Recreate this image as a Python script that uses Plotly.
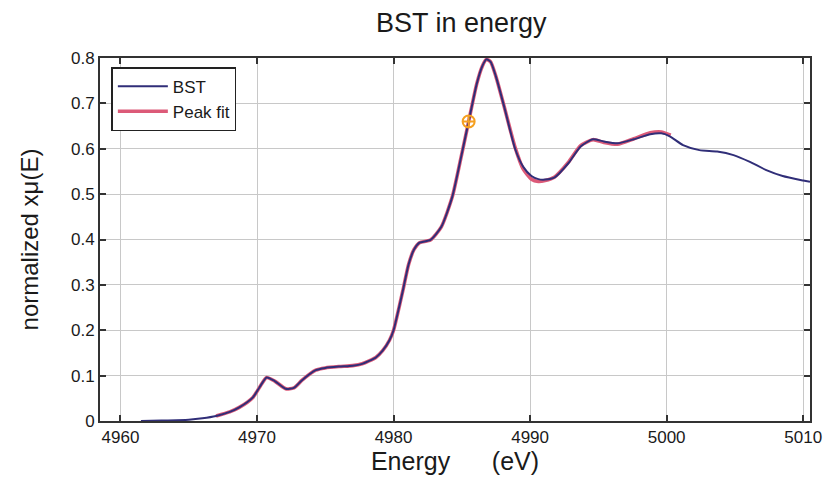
import plotly.graph_objects as go

# BST measured spectrum
bst_energy = [4961.5, 4963, 4965, 4966, 4967, 4968, 4968.7, 4969.7, 4970.2, 4970.7, 4971.3,
              4972.1, 4972.7, 4973.3, 4974.3, 4975.0, 4976.0, 4977.0, 4977.7, 4978.7, 4979.2,
              4979.7, 4980.0, 4980.4, 4980.7, 4981.1, 4981.5, 4981.9, 4982.7, 4983.5, 4984.3,
              4984.9, 4985.5, 4986.1, 4986.5, 4986.8, 4987.1, 4987.5, 4988.1, 4988.9, 4989.5,
              4990.1, 4990.6, 4991.1, 4991.8, 4992.8, 4993.7, 4994.6, 4995.4, 4996.4, 4997.6,
              4998.8, 4999.6, 5000.2, 5001.2, 5002.4, 5003.7, 5004.9, 5006.1, 5007.3, 5008.5,
              5010.0, 5010.5]
bst_mu = [0.000, 0.001, 0.003, 0.006, 0.011, 0.020, 0.030, 0.052, 0.075, 0.096, 0.088,
          0.071, 0.073, 0.090, 0.112, 0.117, 0.120, 0.122, 0.126, 0.140, 0.155,
          0.178, 0.200, 0.250, 0.290, 0.345, 0.378, 0.393, 0.399, 0.428, 0.494,
          0.575, 0.660, 0.744, 0.782, 0.797, 0.792, 0.759, 0.693, 0.600, 0.560,
          0.540, 0.533, 0.532, 0.537, 0.568, 0.605, 0.621, 0.616, 0.612, 0.621,
          0.632, 0.634, 0.628, 0.608, 0.597, 0.594, 0.586, 0.571, 0.553, 0.540,
          0.530, 0.527]

# Peak fit
fit_energy = [4967, 4968, 4968.7, 4969.7, 4970.2, 4970.7, 4971.3, 4972.1, 4972.7, 4973.3,
              4974.3, 4975.0, 4976.0, 4977.0, 4977.7, 4978.7, 4979.2, 4979.7, 4980.0, 4980.4,
              4980.7, 4981.1, 4981.5, 4981.9, 4982.7, 4983.5, 4984.3, 4984.9, 4985.5, 4986.1,
              4986.5, 4986.8, 4987.1, 4987.5, 4988.1, 4988.9, 4989.5, 4990.1, 4990.6, 4991.1,
              4991.8, 4992.8, 4993.7, 4994.6, 4995.4, 4996.4, 4997.6, 4998.8, 4999.6, 5000.3]
fit_mu = [0.011, 0.020, 0.030, 0.052, 0.075, 0.096, 0.088, 0.071, 0.073, 0.090,
          0.112, 0.117, 0.120, 0.122, 0.126, 0.140, 0.155, 0.178, 0.200, 0.250,
          0.290, 0.345, 0.378, 0.393, 0.399, 0.428, 0.494, 0.575, 0.660, 0.744,
          0.782, 0.797, 0.792, 0.759, 0.693, 0.603, 0.555, 0.533, 0.528, 0.530,
          0.538, 0.570, 0.607, 0.620, 0.614, 0.610, 0.622, 0.635, 0.637, 0.630]

# Highlighted point
mark_energy = [4985.5]
mark_mu = [0.66]

x_ticks = [4960, 4970, 4980, 4990, 5000, 5010]
y_ticks = [0, 0.1, 0.2, 0.3, 0.4, 0.5, 0.6, 0.7, 0.8]
y_tick_text = ["0", "0.1", "0.2", "0.3", "0.4", "0.5", "0.6", "0.7", "0.8"]

fig = go.Figure()
fig.add_trace(go.Scatter(x=fit_energy, y=fit_mu, mode="lines", name="Peak fit",
                         line=dict(color="#dc5a78", width=3.6, shape="spline", smoothing=0.6),
                         legendrank=2))
fig.add_trace(go.Scatter(x=bst_energy, y=bst_mu, mode="lines", name="BST",
                         line=dict(color="#302e78", width=2, shape="spline", smoothing=0.6),
                         legendrank=1))
fig.add_trace(go.Scatter(x=mark_energy, y=mark_mu, mode="markers", showlegend=False,
                         marker=dict(symbol="circle-cross-open", size=12, color="#f5a020",
                                     line=dict(width=2))))

font_family = "Liberation Sans, Arial, sans-serif"
fig.update_layout(
    width=834, height=494,
    margin=dict(l=100, r=20, t=58, b=73),
    paper_bgcolor="white", plot_bgcolor="white",
    font=dict(family=font_family, color="#1a1a1a"),
    title=dict(text="BST in energy", x=0.553, xanchor="center", y=0.955, yanchor="middle",
               font=dict(size=27, family=font_family, color="#1a1a1a")),
    showlegend=True,
    legend=dict(x=0.016, y=0.975, xanchor="left", yanchor="top",
                bgcolor="white", bordercolor="#222222", borderwidth=1.5,
                font=dict(size=17, family=font_family, color="#1a1a1a"),
                itemwidth=50, entrywidth=150, entrywidthmode="pixels", tracegroupgap=4),
)
fig.update_xaxes(
    range=[4958.5, 5010.5], tickvals=x_ticks, ticks="inside", ticklen=6, tickwidth=1.5,
    tickcolor="#333333", showline=True, linecolor="#333333", linewidth=2, mirror="ticks",
    showgrid=True, gridcolor="#c8c8c8", gridwidth=1, zeroline=False,
    tickfont=dict(size=17, family=font_family, color="#1a1a1a"),
    title=dict(text="Energy&nbsp;&nbsp;&nbsp;&nbsp;&nbsp;&nbsp;(eV)", standoff=6,
               font=dict(size=25, family=font_family, color="#1a1a1a")),
)
fig.update_yaxes(
    range=[0, 0.8], tickvals=y_ticks, ticktext=y_tick_text, ticks="inside", ticklen=6,
    tickwidth=1.5, tickcolor="#333333", showline=True, linecolor="#333333", linewidth=2,
    mirror="ticks", showgrid=True, gridcolor="#c8c8c8", gridwidth=1, zeroline=False,
    tickfont=dict(size=17, family=font_family, color="#1a1a1a"),
    title=dict(text="normalized xμ(E)", standoff=26,
               font=dict(size=24, family=font_family, color="#1a1a1a")),
)

fig.write_html("out.html")
